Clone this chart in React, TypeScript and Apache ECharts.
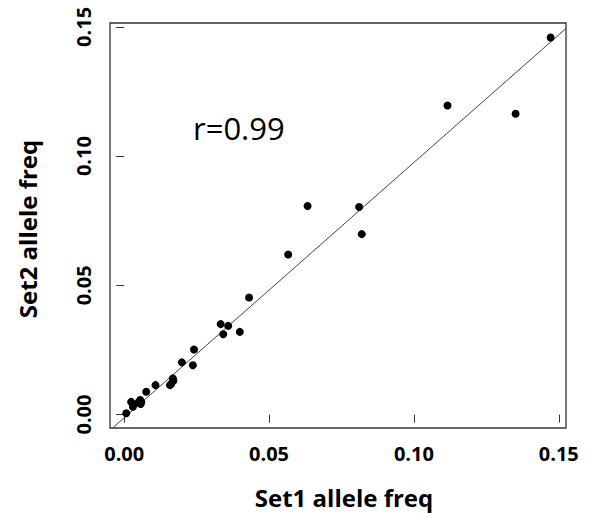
import React, { useEffect, useRef } from "react";
import * as echarts from "echarts";

// Set1 (x) vs Set2 (y) allele frequencies
const set1Freq = [
  0.1472, 0.1116, 0.1351, 0.0633, 0.0811, 0.082, 0.0566, 0.0431, 0.0333, 0.0359,
  0.0342, 0.0399, 0.0241, 0.0199, 0.0237, 0.0168, 0.017, 0.0162, 0.0158, 0.0108,
  0.0076, 0.0055, 0.0024, 0.003, 0.0059, 0.0048, 0.0057, 0.0007,
];
const set2Freq = [
  0.1459, 0.1196, 0.1164, 0.0807, 0.0803, 0.0698, 0.0619, 0.0453, 0.035, 0.0343,
  0.0311, 0.032, 0.0252, 0.0202, 0.0191, 0.014, 0.0131, 0.0118, 0.0114, 0.0114,
  0.0088, 0.0056, 0.0049, 0.003, 0.0049, 0.0046, 0.0041, 0.0005,
];
// fitted line end points
const fitLineX = [-0.004, 0.1525];
const fitLineY = [-0.0052, 0.1494];
const tickValues = [0, 0.05, 0.1, 0.15];
const xTitle = "Set1 allele freq";
const yTitle = "Set2 allele freq";
const corrLabel = "r=0.99";

export default function App() {
  const ref = useRef<HTMLDivElement>(null);
  useEffect(() => {
    if (!ref.current) return;
    const chart = echarts.init(ref.current, null, { renderer: "svg" });
    const font = "'Open Sans', 'Noto Sans', sans-serif";
    const axisCommon = {
      type: "value" as const,
      splitLine: { show: false },
      axisLine: { show: false },
      axisTick: {
        show: true,
        inside: false,
        length: 8,
        customValues: tickValues,
        lineStyle: { color: "#333", width: 1 },
      },
    };
    chart.setOption({
      animation: false,
      backgroundColor: "#ffffff",
      grid: {
        left: 110,
        right: 23,
        top: 23,
        bottom: 85,
        show: true,
        borderColor: "#333",
        borderWidth: 1.3,
        backgroundColor: "transparent",
      },
      xAxis: {
        ...axisCommon,
        min: -0.0049,
        max: 0.1525,
        axisLabel: {
          customValues: tickValues,
          formatter: (v: number) => v.toFixed(2),
          margin: 15,
          fontFamily: font,
          fontWeight: "bold",
          fontSize: 20,
          color: "#000",
        },
      },
      yAxis: {
        ...axisCommon,
        min: -0.0052,
        max: 0.1515,
        axisLabel: {
          customValues: tickValues,
          formatter: (v: number) => v.toFixed(2),
          rotate: 90,
          margin: 17,
          fontFamily: font,
          fontWeight: "bold",
          fontSize: 20,
          color: "#000",
        },
      },
      series: [
        {
          type: "line",
          data: fitLineX.map((x, i) => [x, fitLineY[i]]),
          showSymbol: false,
          clip: true,
          lineStyle: { color: "#444", width: 1 },
          z: 1,
        },
        {
          type: "scatter",
          data: set1Freq.map((x, i) => [x, set2Freq[i]]),
          symbol: "circle",
          symbolSize: 8,
          itemStyle: { color: "#000", opacity: 1 },
          z: 2,
        },
      ],
      graphic: [
        {
          type: "text",
          x: 193,
          y: 128,
          style: {
            text: corrLabel,
            fontFamily: font,
            fontSize: 31,
            fill: "#000",
            verticalAlign: "middle",
          },
        },
        {
          type: "text",
          x: 344,
          y: 497,
          style: {
            text: xTitle,
            fontFamily: font,
            fontWeight: "bold",
            fontSize: 24,
            fill: "#000",
            align: "center",
            verticalAlign: "middle",
          },
        },
        {
          type: "text",
          x: 27,
          y: 229,
          rotation: Math.PI / 2,
          style: {
            text: yTitle,
            fontFamily: font,
            fontWeight: "bold",
            fontSize: 24,
            fill: "#000",
            align: "center",
            verticalAlign: "middle",
          },
        },
      ],
    });
    return () => chart.dispose();
  }, []);
  return (
    <div
      ref={ref}
      style={{ position: "absolute", left: 0, top: 0, width: 589, height: 513 }}
    />
  );
}
